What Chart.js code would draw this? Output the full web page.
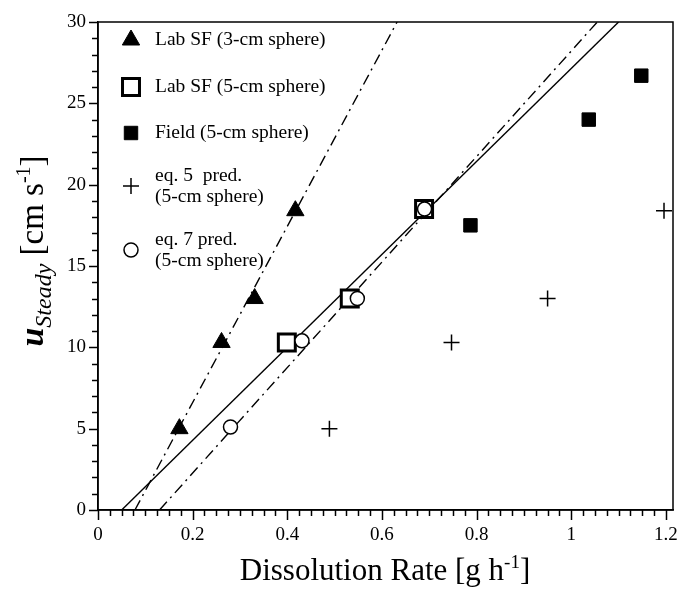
<!DOCTYPE html>
<html>
<head>
<meta charset="utf-8">
<script src="https://cdn.jsdelivr.net/npm/chart.js@4/dist/chart.umd.min.js"></script>
<style>
  html, body { margin: 0; padding: 0; background: #fff; overflow: hidden; }
  #wrap { width: 678px; height: 592px; position: relative; }
  canvas { display: block; }
</style>
</head>
<body>
<div id="wrap"><canvas id="chart" width="678" height="592"></canvas></div>
<script>
// Measured points (dissolution rate g/h, u_steady cm/s)
const lab3X = [0.172, 0.261, 0.331, 0.417];
const lab3Y = [5.0, 10.3, 13.0, 18.4];
const lab5X = [0.399, 0.532, 0.689];
const lab5Y = [10.3, 13.0, 18.5];
const fieldX = [0.787, 1.037, 1.148];
const fieldY = [17.5, 24.0, 26.7];
const eq5X = [0.489, 0.747, 0.95, 1.196];
const eq5Y = [5.0, 10.3, 13.0, 18.4];
const eq7X = [0.28, 0.431, 0.548, 0.69];
const eq7Y = [5.1, 10.4, 13.0, 18.5];

// Fitted lines (end points)
const fit3X = [0.078, 0.632];
const fit3Y = [0, 30];
const fitLabX = [0.05, 1.10];
const fitLabY = [0, 30];
const fitEq7X = [0.13, 1.055];
const fitEq7Y = [0, 30];

const xTicks = [0, 0.2, 0.4, 0.6, 0.8, 1, 1.2];
const yTicks = [0, 5, 10, 15, 20, 25, 30];

const legendRows = [
    { style: 'triangle', radius: 10, fill: '#000', border: 1, lines: ['Lab SF (3-cm sphere)'] },
    { style: 'rect', radius: 12, fill: '#fff', border: 3, lines: ['Lab SF (5-cm sphere)'] },
    { style: 'rect', radius: 9.5, fill: '#000', border: 1, lines: ['Field (5-cm sphere)'] },
    { style: 'cross', radius: 8, fill: '#000', border: 1.5, lines: ['eq. 5  pred.', '(5-cm sphere)'] },
    { style: 'circle', radius: 7, fill: '#fff', border: 1.5, lines: ['eq. 7 pred.', '(5-cm sphere)'] }
];

const SERIF = '"Liberation Serif", "DejaVu Serif", serif';
const pts = (xs, ys) => xs.map((x, i) => ({ x: x, y: ys[i] }));
const DASHDOT = [11, 5, 2, 5];

// frame, minor/major ticks and tick labels
const axesPlugin = {
    id: 'axesDeco',
    afterDraw(chart) {
        const { ctx, chartArea: a, scales } = chart;
        ctx.save();
        ctx.strokeStyle = '#000';
        ctx.fillStyle = '#000';
        ctx.lineWidth = 1.5;
        ctx.strokeRect(a.left, a.top, a.right - a.left, a.bottom - a.top);

        // x ticks
        for (let i = 0; i <= 48; i++) {
            const px = Math.round(scales.x.getPixelForValue(i * 0.025)) + 0.5;
            const len = (i % 8 === 0) ? 10 : 6;
            ctx.beginPath();
            ctx.moveTo(px, a.bottom);
            ctx.lineTo(px, a.bottom + len);
            ctx.stroke();
        }
        // y ticks
        for (let v = 0; v <= 30; v++) {
            const py = Math.round(scales.y.getPixelForValue(v)) + 0.5;
            const len = (v % 5 === 0) ? 9 : 6;
            ctx.beginPath();
            ctx.moveTo(a.left, py);
            ctx.lineTo(a.left - len, py);
            ctx.stroke();
        }

        ctx.font = '19px ' + SERIF;
        ctx.textAlign = 'center';
        ctx.textBaseline = 'alphabetic';
        xTicks.forEach(v => ctx.fillText(String(v), scales.x.getPixelForValue(v), 540));
        ctx.textAlign = 'right';
        ctx.textBaseline = 'middle';
        yTicks.forEach(v => ctx.fillText(String(v), 86, scales.y.getPixelForValue(v)));
        ctx.restore();
    }
};

// text runs with sub/superscripts
function drawRuns(ctx, runs, cx, baseY) {
    let total = 0;
    runs.forEach(r => { ctx.font = r.font; r.w = ctx.measureText(r.t).width; total += r.w; });
    let x = cx - total / 2;
    ctx.textAlign = 'left';
    ctx.textBaseline = 'alphabetic';
    runs.forEach(r => {
        ctx.font = r.font;
        ctx.fillText(r.t, x, baseY + (r.dy || 0));
        x += r.w;
    });
}

const titlesPlugin = {
    id: 'titles',
    afterDraw(chart) {
        const { ctx } = chart;
        ctx.save();
        ctx.fillStyle = '#000';
        drawRuns(ctx, [
            { t: 'Dissolution Rate [g h', font: '31px ' + SERIF },
            { t: '-1', font: '19px ' + SERIF, dy: -12 },
            { t: ']', font: '31px ' + SERIF }
        ], 385, 580);

        ctx.translate(43, 251);
        ctx.rotate(-Math.PI / 2);
        drawRuns(ctx, [
            { t: 'u', font: 'italic bold 34px ' + SERIF },
            { t: 'Steady', font: 'italic 24px ' + SERIF, dy: 8 },
            { t: ' [cm s', font: '33px ' + SERIF },
            { t: '-1', font: '20px ' + SERIF, dy: -13 },
            { t: ']', font: '33px ' + SERIF }
        ], 0, 0);
        ctx.restore();
    }
};

const legendPlugin = {
    id: 'customLegend',
    afterDraw(chart) {
        const ctx = chart.ctx;
        const markerX = 131;
        const textX = 155;
        const rowY = [40, 87, 133, 186, 250];
        ctx.save();
        ctx.font = '19.5px ' + SERIF;
        ctx.textBaseline = 'middle';
        ctx.textAlign = 'left';
        legendRows.forEach((row, i) => {
            const y = rowY[i];
            ctx.fillStyle = row.fill;
            ctx.strokeStyle = '#000';
            ctx.lineWidth = row.border;
            ctx.setLineDash([]);
            Chart.helpers.drawPoint(ctx, { pointStyle: row.style, radius: row.radius, rotation: 0, borderWidth: row.border }, markerX, y);
            ctx.fillStyle = '#000';
            if (row.lines.length === 1) {
                ctx.fillText(row.lines[0], textX, y);
            } else {
                ctx.fillText(row.lines[0], textX, y - 10);
                ctx.fillText(row.lines[1], textX, y + 11);
            }
        });
        ctx.restore();
    }
};

new Chart(document.getElementById('chart'), {
    type: 'scatter',
    data: {
        datasets: [
            { label: 'eq. 7 pred.', data: pts(eq7X, eq7Y), pointStyle: 'circle', pointRadius: 7, backgroundColor: '#fff', borderColor: '#000', borderWidth: 1.5, order: 1 },
            { label: 'eq. 5 pred.', data: pts(eq5X, eq5Y), pointStyle: 'cross', pointRadius: 8, backgroundColor: '#000', borderColor: '#000', borderWidth: 1.5, order: 2 },
            { label: 'Lab SF (5-cm sphere)', data: pts(lab5X, lab5Y), pointStyle: 'rect', pointRadius: 12, backgroundColor: '#fff', borderColor: '#000', borderWidth: 3, order: 3 },
            { label: 'Field (5-cm sphere)', data: pts(fieldX, fieldY), pointStyle: 'rect', pointRadius: 9.5, backgroundColor: '#000', borderColor: '#000', borderWidth: 1, order: 4 },
            { label: 'Lab SF (3-cm sphere)', data: pts(lab3X, lab3Y), pointStyle: 'triangle', pointRadius: 10, backgroundColor: '#000', borderColor: '#000', borderWidth: 1, order: 5 },
            { label: 'fit 3-cm', data: pts(fit3X, fit3Y), showLine: true, pointRadius: 0, borderColor: '#000', borderWidth: 1.4, borderDash: DASHDOT, fill: false, order: 6 },
            { label: 'fit lab 5-cm', data: pts(fitLabX, fitLabY), showLine: true, pointRadius: 0, borderColor: '#000', borderWidth: 1.4, fill: false, order: 7 },
            { label: 'fit eq. 7', data: pts(fitEq7X, fitEq7Y), showLine: true, pointRadius: 0, borderColor: '#000', borderWidth: 1.4, borderDash: DASHDOT, fill: false, order: 8 }
        ]
    },
    options: {
        responsive: false,
        animation: false,
        layout: { autoPadding: false, padding: { top: 22, right: 5, bottom: 0, left: 0 } },
        plugins: {
            legend: { display: false },
            tooltip: { enabled: false }
        },
        scales: {
            x: {
                type: 'linear', min: 0, max: 1.215,
                grid: { display: false },
                border: { display: true, color: '#000', width: 1.5 },
                ticks: { display: false },
                afterFit: s => { s.height = 82; s.paddingLeft = 0; s.paddingRight = 0; }
            },
            y: {
                type: 'linear', min: 0, max: 30,
                grid: { display: false },
                border: { display: true, color: '#000', width: 1.5 },
                ticks: { display: false },
                afterFit: s => { s.width = 98; s.paddingTop = 0; s.paddingBottom = 0; }
            }
        }
    },
    plugins: [axesPlugin, titlesPlugin, legendPlugin]
});
</script>
</body>
</html>
